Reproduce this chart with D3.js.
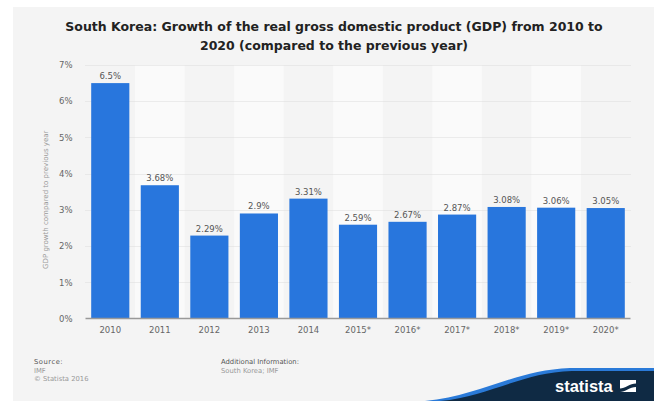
<!DOCTYPE html>
<html><head><meta charset="utf-8">
<script src="https://cdn.jsdelivr.net/npm/d3@7"></script>
<style>
html,body{margin:0;padding:0;background:#fff;}
svg{display:block;font-family:"DejaVu Sans",sans-serif;}
</style></head>
<body>
<svg id="chart" width="654" height="401"></svg>
<script>
const categories = ["2010","2011","2012","2013","2014","2015*","2016*","2017*","2018*","2019*","2020*"];
const values = [6.5, 3.68, 2.29, 2.9, 3.31, 2.59, 2.67, 2.87, 3.08, 3.06, 3.05];
const valueLabels = ["6.5%","3.68%","2.29%","2.9%","3.31%","2.59%","2.67%","2.87%","3.08%","3.06%","3.05%"];
const yTicks = [0,1,2,3,4,5,6,7];
const titleLines = ["South Korea: Growth of the real gross domestic product (GDP) from 2010 to","2020 (compared to the previous year)"];

(function(){
const svg = d3.select("#chart");
const W = 654, H = 401;
svg.append("rect").attr("x",13).attr("y",7).attr("width",W-13).attr("height",H-7).attr("fill","#f4f4f4");

const pLeft = 85.5, pRight = 630.5, pTop = 65, pBottom = 318.5;
const x = d3.scaleBand().domain(categories).range([pLeft,pRight]).paddingInner(0.23).paddingOuter(0.115);
const xb = d3.scaleBand().domain(categories).range([pLeft,pRight]).padding(0);
const y = d3.scaleLinear().domain([0,7]).range([pBottom,pTop]);

// alternating bands
svg.append("g").selectAll("rect").data(categories.filter((d,i)=>i%2===1)).join("rect")
  .attr("x",d=>xb(d)).attr("y",pTop).attr("width",xb.bandwidth()).attr("height",pBottom-pTop)
  .attr("fill","#fafafa");

// gridlines
svg.append("g").selectAll("line").data(yTicks.filter(t=>t>0)).join("line")
  .attr("x1",pLeft).attr("x2",pRight).attr("y1",d=>Math.round(y(d))+0.5).attr("y2",d=>Math.round(y(d))+0.5)
  .attr("stroke","#dcdcdc").attr("stroke-width",1).attr("stroke-dasharray","1,1");

// y axis labels
const yAxis = d3.axisLeft(y).tickValues(yTicks).tickFormat(d=>d+"%").tickSize(0).tickPadding(0);
const gy = svg.append("g").attr("transform",`translate(${pLeft-13},0)`).call(yAxis);
gy.select(".domain").remove();
gy.selectAll("text").attr("fill","#666").attr("font-size","8.5px").attr("font-family","DejaVu Sans, sans-serif");

// bars
svg.append("g").selectAll("rect").data(values).join("rect")
  .attr("x",(d,i)=>x(categories[i])).attr("y",d=>y(d))
  .attr("width",x.bandwidth()).attr("height",d=>pBottom-y(d))
  .attr("fill","#2876dd");

// value labels
svg.append("g").selectAll("text").data(values).join("text")
  .attr("x",(d,i)=>x(categories[i])+x.bandwidth()/2).attr("y",d=>y(d)-4)
  .attr("text-anchor","middle").attr("font-size","8.5px").attr("fill","#555")
  .text((d,i)=>valueLabels[i]);

// x axis
const xAxis = d3.axisBottom(x).tickSize(0).tickPadding(8);
const gx = svg.append("g").attr("transform",`translate(0,${pBottom})`).call(xAxis);
gx.select(".domain").attr("stroke","#999").attr("stroke-width",1.5).attr("d",`M${pLeft},0H${pRight}`);
gx.selectAll("text").attr("fill","#666").attr("font-size","8.5px").attr("font-family","DejaVu Sans, sans-serif");

// y title
svg.append("text").attr("transform",`translate(48,${(pTop+pBottom)/2+8}) rotate(-90)`)
  .attr("text-anchor","middle").attr("font-size","7px").attr("fill","#999")
  .text("GDP growth compared to previous year");

// title
svg.append("g").selectAll("text").data(titleLines).join("text")
  .attr("x",334).attr("y",(d,i)=>31+i*19).attr("text-anchor","middle")
  .attr("font-size","12.5px").attr("font-weight","bold").attr("fill","#222").text(d=>d);

// footer
const f = svg.append("g").attr("font-size","6.8px");
f.append("text").attr("x",34).attr("y",364).attr("fill","#555").attr("letter-spacing","0.5px").text("Source:");
f.append("text").attr("x",34).attr("y",372.5).attr("fill","#999").text("IMF");
f.append("text").attr("x",34).attr("y",381).attr("fill","#999").text("© Statista 2016");
f.append("text").attr("x",221).attr("y",364).attr("fill","#555").text("Additional Information:");
f.append("text").attr("x",221).attr("y",372.5).attr("fill","#999").text("South Korea; IMF");

// statista logo band
svg.append("path").attr("d","M425,401 C480,396 515,370 570,368 L654,368 L654,401 Z").attr("fill","#2a7ad8");
svg.append("path").attr("d","M440,401 C490,396 522,372.5 572,371 L654,371 L654,401 Z").attr("fill","#0f2a44");
svg.append("text").attr("x",555).attr("y",392).attr("font-size","16.5px").attr("font-weight","bold")
  .attr("fill","#fff").attr("font-family","Liberation Sans, Arial, sans-serif").text("statista");
const lg = svg.append("g").attr("transform","translate(620,380)");
lg.append("rect").attr("width",16).attr("height",12).attr("fill","#fff");
lg.append("path").attr("d","M0,12 L0,8.5 C5,8.5 10,3.5 16,3.5 L16,7 C10,7 5,12 0,12 Z").attr("fill","#0f2a44");
})();
</script>
</body></html>
